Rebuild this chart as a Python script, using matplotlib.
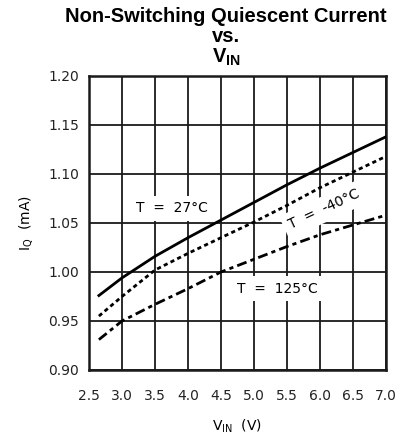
import matplotlib
matplotlib.use("Agg")
import matplotlib.pyplot as plt

# Supply voltage points (V)
vin = [2.65, 3.0, 3.5, 4.0, 4.5, 5.0, 5.5, 6.0, 6.5, 7.0]

# Quiescent current (mA) for each temperature
iq_27 = [0.976, 0.994, 1.016, 1.035, 1.053, 1.071, 1.089, 1.106, 1.122, 1.138]
iq_m40 = [0.955, 0.975, 1.002, 1.019, 1.035, 1.051, 1.068, 1.086, 1.102, 1.118]
iq_125 = [0.931, 0.950, 0.967, 0.983, 1.000, 1.013, 1.026, 1.038, 1.048, 1.058]

xticks = [2.5, 3.0, 3.5, 4.0, 4.5, 5.0, 5.5, 6.0, 6.5, 7.0]
yticks = [0.90, 0.95, 1.00, 1.05, 1.10, 1.15, 1.20]

fig = plt.figure(figsize=(4.07, 4.36), dpi=100)
ax = fig.add_axes([89 / 407, 66 / 436, 297 / 407, 294 / 436])

# Curves
ax.plot(vin, iq_27, "-", color="black", linewidth=2, zorder=3)
ax.plot(vin, iq_m40, color="black", linewidth=2, dashes=(1.5, 1.2), zorder=3)
ax.plot(vin, iq_125, color="black", linewidth=2, dashes=(3.6, 1.5, 1.5, 1.5), zorder=3)

# Axes setup
ax.set_xlim(2.5, 7.0)
ax.set_ylim(0.90, 1.20)
ax.set_xticks(xticks)
ax.set_yticks(yticks)
ax.set_xticklabels([f"{v:.1f}" for v in xticks])
ax.set_yticklabels([f"{v:.2f}" for v in yticks])
ax.tick_params(length=0, labelsize=10, colors="#222222")
ax.tick_params(axis="x", pad=14)
ax.tick_params(axis="y", pad=7)
ax.grid(True, color="#1a1a1a", linewidth=1.3, zorder=1)
ax.set_axisbelow(True)
for sp in ax.spines.values():
    sp.set_linewidth(1.8)
    sp.set_color("#1a1a1a")

ax.set_xlabel(r"V$_{\mathregular{IN}}$  (V)", fontsize=10, labelpad=10)
ax.set_ylabel(r"I$_{\mathregular{Q}}$  (mA)", fontsize=10, labelpad=10)

# Curve labels with white boxes breaking the grid
box = dict(facecolor="white", edgecolor="none", pad=4)
ax.text(3.76, 1.065, "T  =  27°C", fontsize=10, ha="center", va="center", bbox=box, zorder=2)
ax.text(6.06, 1.064, "T  =  -40°C", fontsize=10, ha="center", va="center",
        rotation=25, rotation_mode="anchor", bbox=box, zorder=2)
ax.text(5.35, 0.983, "T  =  125°C", fontsize=10, ha="center", va="center", bbox=box, zorder=2)

# Title
title_kw = dict(fontsize=14.5, fontweight="bold", family="Liberation Sans",
                ha="center", va="center")
fig.text(226 / 407, 1 - 16 / 436, "Non-Switching Quiescent Current", **title_kw)
fig.text(226 / 407, 1 - 36 / 436, "vs.", **title_kw)
fig.text(226 / 407, 1 - 57 / 436, r"V$_{\mathregular{IN}}$", **title_kw)

plt.savefig("out.png", dpi=100)
